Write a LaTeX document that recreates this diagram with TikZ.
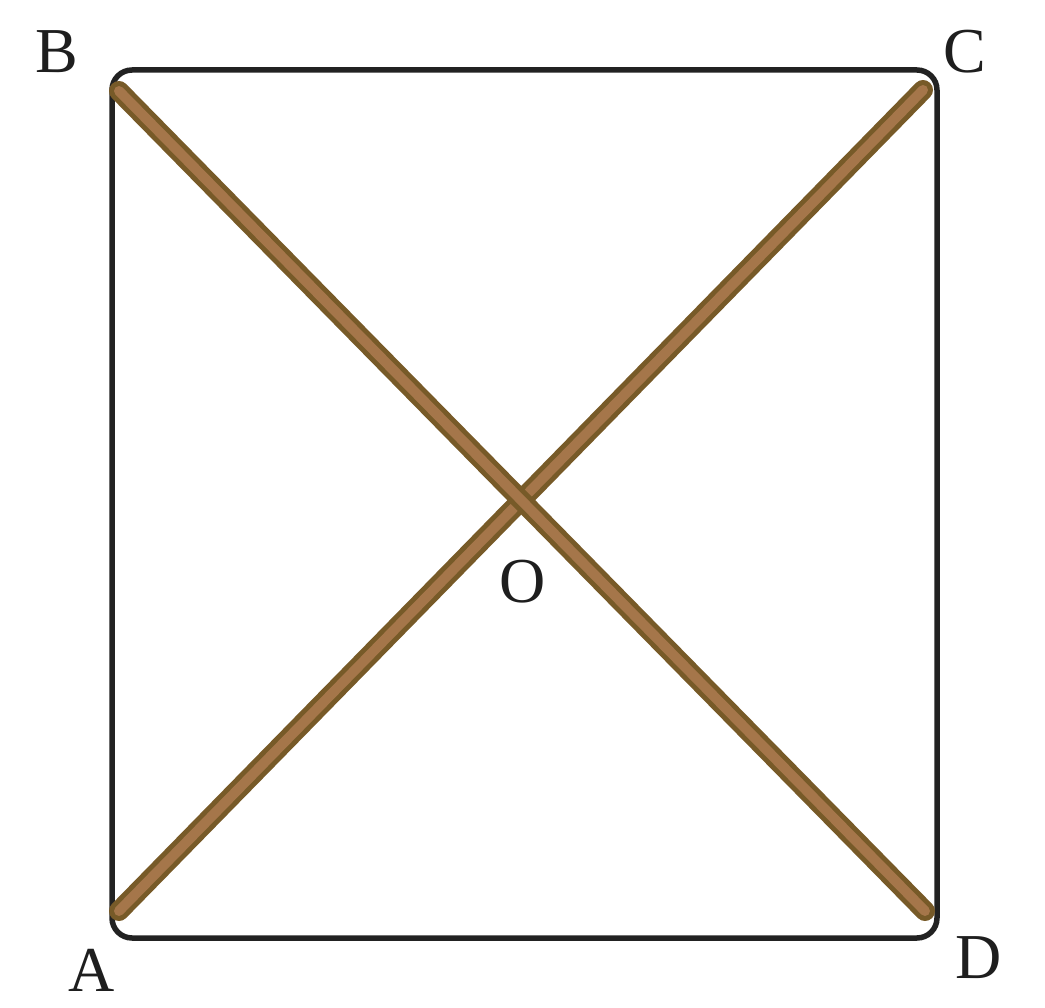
\documentclass[tikz,border=0pt]{standalone}
\usepackage{fontspec}
\setmainfont{Liberation Serif}
\definecolor{frame}{HTML}{222222}
\definecolor{woodout}{HTML}{775A28}
\definecolor{woodin}{HTML}{A5764A}
\definecolor{txt}{HTML}{1E1E1E}
\tikzset{
  box/.style={draw=frame, line width=5.5pt, rounded corners=20pt},
  stickout/.style={draw=woodout, line width=20pt, line cap=round},
  stickin/.style={draw=woodin, line width=10pt, line cap=round},
  lbl/.style={text=txt, font=\fontsize{64}{64}\selectfont, inner sep=0pt}
}
\begin{document}
\begin{tikzpicture}[x=1pt,y=-1pt]
\useasboundingbox (0,0) rectangle (1045,1008);
\draw[box] (112,70) rectangle (937,938);
\coordinate (pB) at (119,91);
\coordinate (pD) at (925,911);
\coordinate (pC) at (923,90);
\coordinate (pA) at (119,911);
\draw[stickout] (pA) -- (pC);
\draw[stickin] (pA) -- (pC);
\draw[stickout] (pB) -- (pD);
\draw[stickin] (pB) -- (pD);
\node[lbl] (B) at (57,52) {B};
\node[lbl] (C) at (965,52) {C};
\node[lbl] (A) at (92,970) {A};
\node[lbl] (D) at (979,958) {D};
\node[lbl] (O) at (523,582) {O};
\end{tikzpicture}
\end{document}
